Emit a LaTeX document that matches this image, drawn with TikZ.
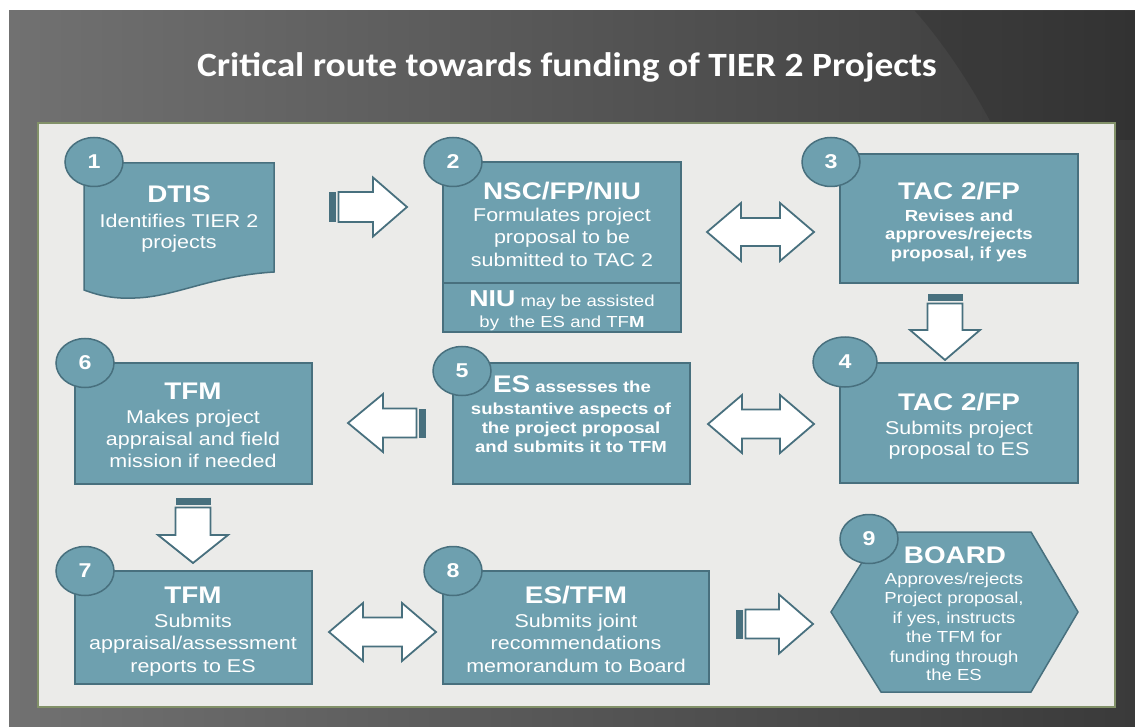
\documentclass[tikz,border=0pt]{standalone}
\usepackage{fontspec}
\setmainfont{Liberation Sans}[FakeStretch=1.16]
\newfontfamily\titlefont{Carlito}[FakeStretch=1.1]
\usetikzlibrary{shapes.geometric}
\definecolor{boxfill}{RGB}{110,160,175}
\definecolor{boxline}{RGB}{72,112,126}
\definecolor{panelfill}{RGB}{235,235,233}
\definecolor{panelline}{RGB}{130,145,105}
\definecolor{bgl}{RGB}{113,113,113}
\definecolor{bgr}{RGB}{58,58,58}
\newcommand{\fs}[2]{\fontsize{#1}{#2}\selectfont}
% striped block arrow: tail x, tail y, rotation, length, head length, shaft half, head half
\newcommand{\sarrow}[7]{%
  \begin{scope}[shift={(#1,#2)}, rotate=#3]
    \fill[boxline] (0,-#6) rectangle (7,#6);
    \draw[blk] (9.5,-#6) -- (#4-#5,-#6) -- (#4-#5,-#7) -- (#4,0) -- (#4-#5,#7) -- (#4-#5,#6) -- (9.5,#6) -- cycle;
  \end{scope}}
% double block arrow: left tip x, y, length, head length, shaft half, head half
\newcommand{\darrow}[6]{%
  \begin{scope}[shift={(#1,#2)}]
    \draw[blk] (0,0) -- (#4,-#6) -- (#4,-#5) -- (#3-#4,-#5) -- (#3-#4,-#6) -- (#3,0) -- (#3-#4,#6) -- (#3-#4,#5) -- (#4,#5) -- (#4,#6) -- cycle;
  \end{scope}}
\begin{document}
\begin{tikzpicture}[x=1pt,y=-1pt,
  box/.style={draw=boxline, fill=boxfill, line width=1.5pt, rectangle, inner sep=0pt},
  num/.style={ellipse, draw=boxline, fill=boxfill, line width=1.5pt, minimum width=58pt, minimum height=49pt, inner sep=0pt, text=white, font=\bfseries\fs{20}{20}},
  t/.style={text=white, anchor=base, inner sep=0pt},
  hd/.style={t, font=\bfseries\fs{24}{24}},
  bd/.style={t, font=\fs{18.5}{18.5}},
  sb/.style={t, font=\bfseries\fs{16}{16}},
  sm/.style={t, font=\fs{16}{16}},
  blk/.style={draw=boxline, fill=white, line width=1.8pt, line join=miter}]
\useasboundingbox (0,0) rectangle (1135,727);
% background
\fill[white] (0,0) rectangle (1135,727);
\shade[left color=bgl, right color=bgr] (9,11) rectangle (1135,727);
\fill[black, opacity=0.12] (915,11) .. controls (945,45) and (975,90) .. (1000,140) -- (1135,140) -- (1135,11) -- cycle;
\node[font=\titlefont\bfseries\fs{34}{34}, text=white, anchor=base, inner sep=0pt] (title) at (567,77) {Critical route towards funding of TIER 2 Projects};
% panel
\node[draw=panelline, fill=panelfill, line width=1.2pt, rectangle, inner sep=0pt, minimum width=1077pt, minimum height=584pt] (panel) at (576.5,415) {};

% box 1 (document)
\draw[box] (84,163) -- (274,163) -- (274,272) .. controls (210,276) and (175,297) .. (135,298) .. controls (115,299) and (100,296) .. (84,290) -- cycle;
\coordinate (b1) at (179,225);
% box 2
\node[box, minimum width=238pt, minimum height=170pt] (b2) at (562,247) {};
\draw[boxline, line width=1.5pt] (443,283) -- (681,283);
% box 3, 4
\node[box, minimum width=238pt, minimum height=129pt] (b3) at (959,218.5) {};
\node[box, minimum width=238pt, minimum height=120pt] (b4) at (959,423) {};
% box 5, 6
\node[box, minimum width=237pt, minimum height=121pt] (b5) at (571.5,423.5) {};
\node[box, minimum width=237pt, minimum height=121pt] (b6) at (193.5,423.5) {};
% box 7, 8
\node[box, minimum width=237pt, minimum height=113pt] (b7) at (193.5,627.5) {};
\node[box, minimum width=266pt, minimum height=113pt] (b8) at (576,627.5) {};
% box 9 (hexagon)
\draw[box] (831,612) -- (881,532) -- (1031,532) -- (1078,612) -- (1031,692) -- (881,692) -- cycle;
\coordinate (b9) at (955,612);

% number badges
\node[num] (c1) at (94,162) {1};
\node[num] (c2) at (453,162) {2};
\node[num] (c3) at (831,162) {3};
\node[num, minimum width=64pt, minimum height=50pt] (c4) at (845,362) {4};
\node[num] (c5) at (462,371) {5};
\node[num] (c6) at (85,363) {6};
\node[num] (c7) at (85,571) {7};
\node[num] (c8) at (453,571) {8};
\node[num] (c9) at (869,539) {9};

% texts
\node[hd] (t1a) at (179,203) {DTIS};
\node[bd] (t1b) at (179,228) {Identifies TIER 2};
\node[bd] (t1c) at (179,249) {projects};

\node[hd] (t2a) at (562,200) {NSC/FP/NIU};
\node[bd] (t2b) at (562,222) {Formulates project};
\node[bd] (t2c) at (562,244) {proposal to be};
\node[bd] (t2d) at (562,267) {submitted to TAC 2};
\node[sm] (t2e) at (562,307) {{\bfseries\fs{23}{23}NIU} may be assisted};
\node[sm] (t2f) at (562,327) {by\ \ the ES and TF\textbf{M}};

\node[hd] (t3a) at (959,200) {TAC 2/FP};
\node[sb] (t3b) at (959,222) {Revises and};
\node[sb] (t3c) at (959,240) {approves/rejects};
\node[sb] (t3d) at (959,259) {proposal, if yes};

\node[hd] (t4a) at (959,410) {TAC 2/FP};
\node[bd] (t4b) at (959,434) {Submits project};
\node[bd] (t4c) at (959,455) {proposal to ES};

\node[sb] (t5a) at (572,392) {{\fs{24}{24}ES} assesses the};
\node[sb] (t5b) at (571,414) {substantive aspects of};
\node[sb] (t5c) at (571,433) {the project proposal};
\node[sb] (t5d) at (571,452) {and submits it to TFM};

\node[hd] (t6a) at (193,399) {TFM};
\node[bd] (t6b) at (193,423) {Makes project};
\node[bd] (t6c) at (193,445) {appraisal and field};
\node[bd] (t6d) at (193,467) {mission if needed};

\node[hd] (t7a) at (193,603) {TFM};
\node[bd] (t7b) at (193,627) {Submits};
\node[bd] (t7c) at (193,649) {appraisal/assessment};
\node[bd] (t7d) at (193,672) {reports to ES};

\node[hd] (t8a) at (576,603) {ES/TFM};
\node[bd] (t8b) at (576,627) {Submits joint};
\node[bd] (t8c) at (576,649) {recommendations};
\node[bd] (t8d) at (576,672) {memorandum to Board};

\node[hd] (t9a) at (955,563) {BOARD};
\node[sm] (t9b) at (954,584) {Approves/rejects};
\node[sm] (t9c) at (954,603) {Project proposal,};
\node[sm] (t9d) at (954,623) {if yes, instructs};
\node[sm] (t9e) at (954,642) {the TFM for};
\node[sm] (t9f) at (954,662) {funding through};
\node[sm] (t9g) at (954,680) {the ES};

% block arrows
\sarrow{329}{207}{0}{78}{34}{15}{29.5}
\darrow{707}{232}{107}{34}{14}{29}
\sarrow{945}{294}{-90}{66}{30}{17.5}{35}
\darrow{708}{424}{106}{34}{14.5}{29}
\sarrow{426}{423}{180}{78}{35}{14.5}{29}
\sarrow{193}{498}{-90}{65}{28}{17.5}{35}
\darrow{329}{632}{107}{34}{14.5}{29}
\sarrow{736}{624}{0}{77}{34}{14.5}{29.5}
\end{tikzpicture}
\end{document}
